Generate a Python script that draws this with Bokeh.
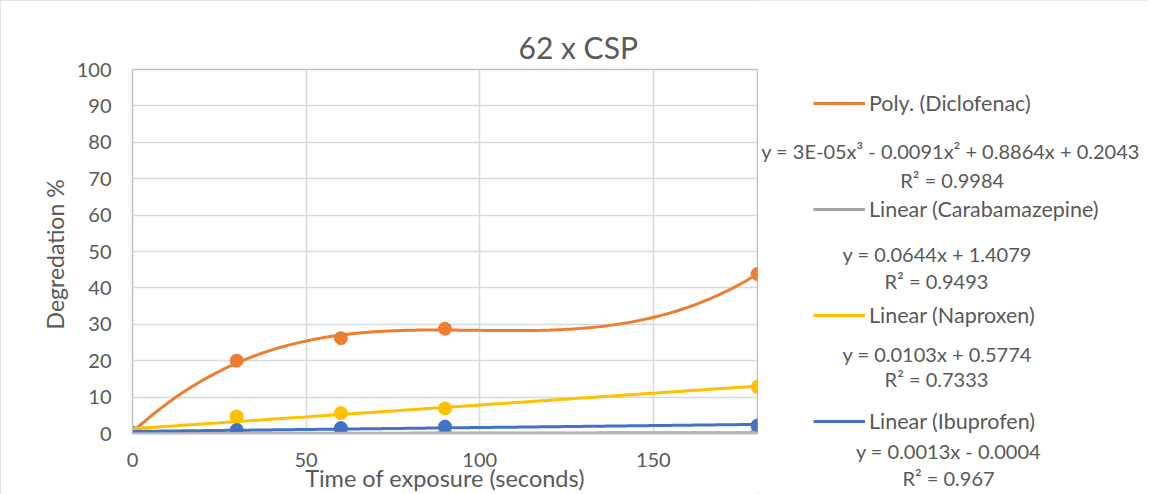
import numpy as np
from bokeh.plotting import figure
from bokeh.layouts import row
from bokeh.models import Legend, LegendItem, Label, FixedTicker, Range1d
from bokeh.embed import file_html
from bokeh.resources import INLINE

# ---- data ----
time_s = [0, 30, 60, 90, 180]
diclofenac = [0.2, 20.0, 26.2, 28.8, 43.8]
carbamazepine = [0.0, 0.03, 0.08, 0.12, 0.23]
naproxen = [0.0, 4.7, 5.6, 6.9, 12.8]
ibuprofen = [0.1, 1.0, 1.5, 1.9, 2.2]

x_ticks = [0, 50, 100, 150]
y_ticks = [0, 10, 20, 30, 40, 50, 60, 70, 80, 90, 100]

legend_labels = ["Poly. (Diclofenac)", "Linear (Carabamazepine)",
                 "Linear (Naproxen)", "Linear (Ibuprofen)"]
equation_texts = ["y = 3E-05x\u00b3 - 0.0091x\u00b2 + 0.8864x + 0.2043", "R\u00b2 = 0.9984",
                  "y = 0.0644x + 1.4079", "R\u00b2 = 0.9493",
                  "y = 0.0103x + 0.5774", "R\u00b2 = 0.7333",
                  "y = 0.0013x - 0.0004", "R\u00b2 = 0.967"]

ORANGE = "#ED7D31"
GREY = "#A5A5A5"
YELLOW = "#FFC000"
BLUE = "#4472C4"
TEXT = "#595959"
FONT = "Lato"
colors = [ORANGE, GREY, YELLOW, BLUE]

# ---------------- main chart ----------------
p = figure(width=758, height=494, x_range=Range1d(0, 180), y_range=Range1d(0, 100),
           output_backend="svg", toolbar_location=None,
           min_border_left=132, min_border_right=1, min_border_top=69, min_border_bottom=61)
p.frame_align = False
p.background_fill_color = "white"
p.border_fill_color = "white"
p.outline_line_color = "#bfbfbf"
p.outline_line_width = 1.5

p.title.text = "62 x CSP"
p.title.align = "left"
p.title.offset = 386
p.title.text_font = FONT
p.title.text_font_size = "30px"
p.title.text_font_style = "normal"
p.title.text_color = TEXT
p.title.standoff = 10

p.xaxis.ticker = FixedTicker(ticks=x_ticks)
p.yaxis.ticker = FixedTicker(ticks=y_ticks)
for ax in (p.xaxis[0], p.yaxis[0]):
    ax.major_tick_line_color = None
    ax.minor_tick_line_color = None
    ax.major_tick_out = 0
    ax.major_tick_in = 0
    ax.major_label_text_font = FONT
    ax.major_label_text_font_size = "20px"
    ax.major_label_text_color = TEXT
    ax.axis_label_text_font = FONT
    ax.axis_label_text_font_style = "normal"
    ax.axis_label_text_color = TEXT
p.xaxis.axis_label_text_font_size = "23.5px"
p.yaxis.axis_label_text_font_size = "23px"
p.xaxis.axis_line_color = "#bfbfbf"
p.xaxis.axis_line_width = 2
p.yaxis.axis_line_color = "#bfbfbf"
p.xaxis.major_label_standoff = 19
p.yaxis.major_label_standoff = 21
p.xaxis.axis_label = "Time of exposure (seconds)"
p.yaxis.axis_label = "Degredation  %"
p.xaxis.axis_label_standoff = -6
p.yaxis.axis_label_standoff = 5

p.xgrid.grid_line_color = "#d9d9d9"
p.ygrid.grid_line_color = "#d9d9d9"
p.xgrid.grid_line_width = 1.5
p.ygrid.grid_line_width = 1.5

series = [diclofenac, carbamazepine, naproxen, ibuprofen]
for ys, c in zip(series, colors):
    p.scatter(time_s, ys, size=13, color=c)

# trendlines fitted from the data (cubic for Diclofenac, linear for others)
degrees = [3, 1, 1, 1]
xs = np.linspace(0, 180, 200)
for ys, deg, c in zip(series, degrees, colors):
    coef = np.polyfit(time_s, ys, deg)
    p.line(xs, np.polyval(coef, xs), line_color=c, line_width=3)

# ---------------- legend / equation panel ----------------
q = figure(width=389, height=494, x_range=Range1d(0, 1), y_range=Range1d(0, 1),
           output_backend="svg", toolbar_location=None, title_location=None,
           x_axis_type=None, y_axis_type=None,
           min_border_left=0, min_border_right=0, min_border_top=0, min_border_bottom=0)
q.frame_align = False
q.grid.visible = False
q.outline_line_color = None
q.background_fill_color = "white"
q.border_fill_color = "white"

# legend-only line renderers (no visible data)
legend_renderers = [q.line(x=np.array([np.nan]), y=np.array([np.nan]), line_color=c, line_width=3)
                    for c in colors]
legend = Legend(items=[LegendItem(label=l, renderers=[r]) for l, r in zip(legend_labels, legend_renderers)],
                location=(55, 60), orientation="vertical")
legend.padding = 0
legend.margin = 0
legend.spacing = 80
legend.glyph_width = 52
legend.glyph_height = 24
legend.label_height = 24
legend.label_standoff = 4
legend.label_text_font = FONT
legend.label_text_font_size = "21.5px"
legend.label_text_color = TEXT
legend.border_line_color = None
legend.background_fill_alpha = 0
q.add_layout(legend)

eq_pos = [(192, 343.3), (193.7, 314.8), (178.7, 240.5), (178, 213.8),
          (178.7, 140.5), (178, 115.5), (190, 43.3), (190, 17)]
for t, (sx, sy) in zip(equation_texts, eq_pos):
    q.add_layout(Label(x=sx, y=sy, x_units="screen", y_units="screen", text=t,
                       text_align="center", text_baseline="middle",
                       text_font=FONT, text_font_size="20px", text_color=TEXT))

layout = row(p, q)
layout.styles = {"outline": "1px solid #d9d9d9", "outline-offset": "-1px"}

open("out.html", "w").write(file_html(layout, INLINE))
